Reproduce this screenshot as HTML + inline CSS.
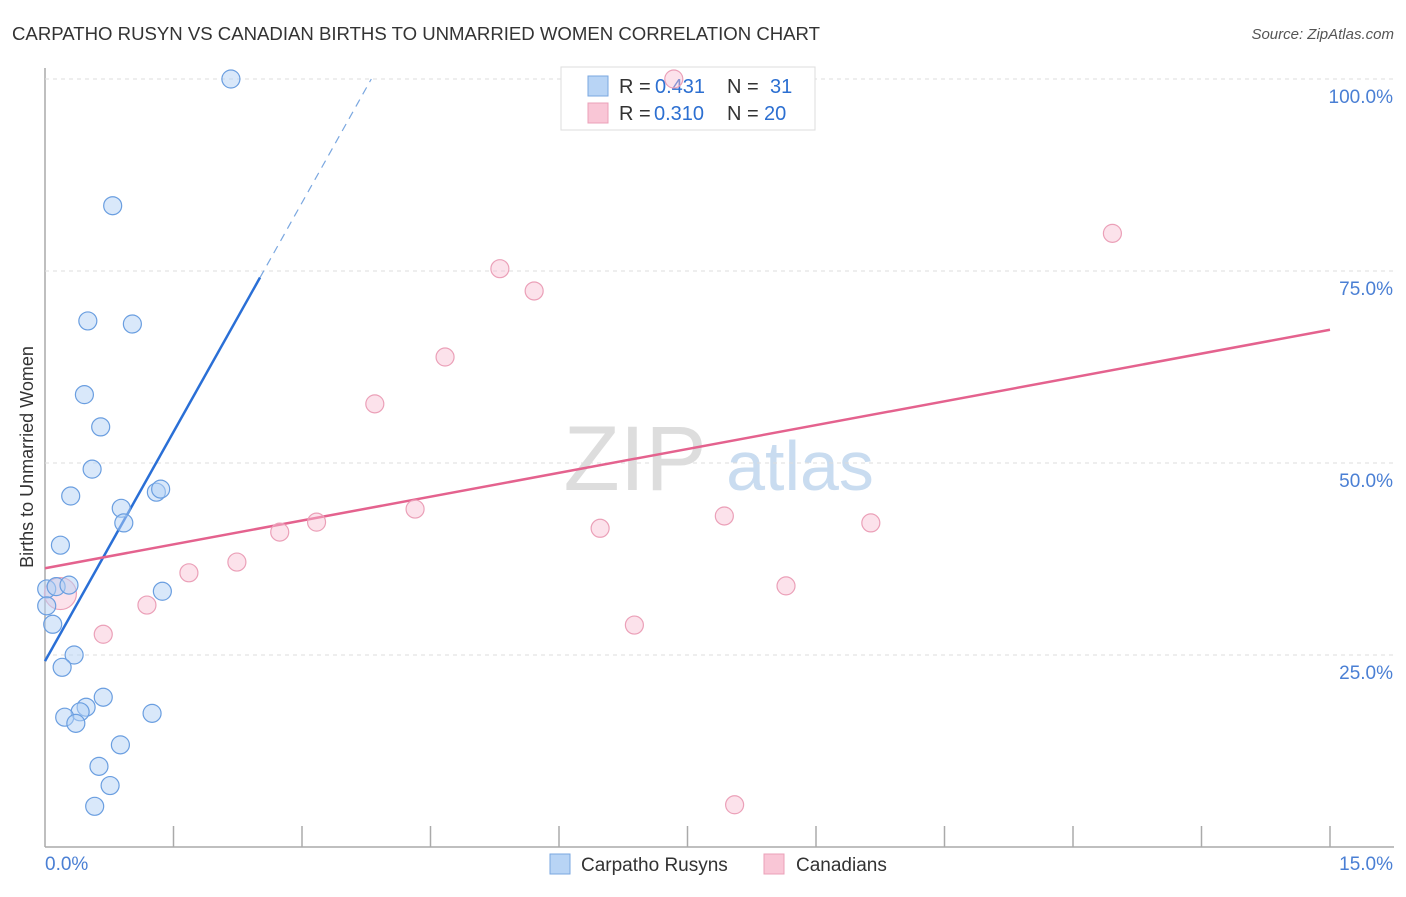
<!DOCTYPE html>
<html><head><meta charset="utf-8"><style>
body{margin:0;background:#fff;font-family:"Liberation Sans",sans-serif;}
svg text{font-family:"Liberation Sans",sans-serif;}
</style></head><body>
<svg id="chart" width="1406" height="892">
<text x="12" y="40" font-size="18.6" fill="#333" textLength="808">CARPATHO RUSYN VS CANADIAN BIRTHS TO UNMARRIED WOMEN CORRELATION CHART</text>
<text x="1394" y="39" font-size="15" fill="#555" text-anchor="end" font-style="italic">Source: ZipAtlas.com</text>
<text x="33" y="457" font-size="18" fill="#333" text-anchor="middle" transform="rotate(-90 33 457)">Births to Unmarried Women</text>
<g><text x="635" y="490" font-size="92" font-family="Liberation Serif" fill="#ddd" text-anchor="middle">ZIP</text><text x="800" y="490" font-size="70" fill="#c9dcf0" text-anchor="middle">atlas</text></g>
<g id="grid"></g><g id="lines"></g>
<g>
<rect x="561" y="67" width="254" height="63" fill="#fff" stroke="#ddd"/>
<rect x="588" y="76" width="20" height="20" fill="#b8d4f5" stroke="#7aa7e0"/>
<rect x="588" y="103" width="20" height="20" fill="#f9c6d6" stroke="#eba0b8"/>
<text y="93" font-size="20" fill="#333"><tspan x="619">R =</tspan><tspan x="655" fill="#2c6fd1">0.431</tspan><tspan x="727">N =</tspan><tspan x="770" fill="#2c6fd1">31</tspan></text>
<text y="120" font-size="20" fill="#333"><tspan x="619">R =</tspan><tspan x="654" fill="#2c6fd1">0.310</tspan><tspan x="727">N =</tspan><tspan x="764" fill="#2c6fd1">20</tspan></text>
</g>
<g id="pts"></g>
<g>
<rect x="550" y="854" width="20" height="20" fill="#b8d4f5" stroke="#7aa7e0"/>
<text x="581" y="871" font-size="19" fill="#333">Carpatho Rusyns</text>
<rect x="764" y="854" width="20" height="20" fill="#f9c6d6" stroke="#eba0b8"/>
<text x="796" y="871" font-size="19" fill="#333">Canadians</text>
</g>
</svg>
<script>
const xTicks=[0,1.5,3,4.5,6,7.5,9,10.5,12,13.5,15];
const yTicks=[25,50,75,100];
const blueX=[2.17,0.79,0.5,1.02,0.46,0.65,0.55,0.30,0.89,0.92,1.30,1.35,0.18,0.02,0.13,0.28,1.37,0.09,0.34,0.20,0.68,0.48,0.41,0.23,0.36,1.25,0.88,0.63,0.76,0.58,0.02];
const blueY=[100,83.5,68.5,68.1,58.9,54.7,49.2,45.7,44.1,42.2,46.2,46.6,39.3,33.6,33.9,34.1,33.3,29.0,25.0,23.4,19.5,18.2,17.6,16.9,16.1,17.4,13.3,10.5,8.0,5.3,31.4];
const pinkX=[12.46,5.31,5.71,4.67,3.85,4.32,3.17,2.74,2.24,1.68,1.19,0.68,6.48,7.93,9.64,8.65,6.88,8.05,7.34,0.18];
const pinkY=[79.9,75.3,72.4,63.8,57.7,44.0,42.3,41.0,37.1,35.7,31.5,27.7,41.5,43.1,42.2,34.0,28.9,5.5,100,33.0];
const pinkR=[9,9,9,9,9,9,9,9,9,9,9,9,9,9,9,9,9,9,9,16];
const blueFit=[24.2,19.9]; const pinkFit=[36.3,2.07];
const X=v=>45+v/15*1285, Y=v=>847-v/100*768;
const NS="http://www.w3.org/2000/svg";
function mk(p,t,a){const e=document.createElementNS(NS,t);for(const k in a)e.setAttribute(k,a[k]);p.appendChild(e);return e;}
const g=document.getElementById('grid');
mk(g,'line',{x1:45,y1:68,x2:45,y2:847,stroke:'#aaa','stroke-width':1.5});
mk(g,'line',{x1:45,y1:847,x2:1394,y2:847,stroke:'#aaa','stroke-width':1.5});
yTicks.forEach(t=>{const l=mk(g,'line',{x1:45,y1:Y(t),x2:1394,y2:Y(t),stroke:'#ddd','stroke-dasharray':'4,4'});


const tx=mk(g,'text',{x:1393,y:Y(t)+24,'font-size':19,fill:'#4a7fd4','text-anchor':'end'});tx.textContent=t.toFixed(1)+'%';

});
xTicks.forEach((t,i)=>{if(i>0){const l=mk(g,'line',{x1:X(t),y1:826,x2:X(t),y2:847,stroke:'#aaa','stroke-width':1.5});

}});
[[0,'start',45],[15,'end',1393]].forEach(([t,a,x])=>{const tx=mk(g,'text',{x:x,y:870,'font-size':19,fill:'#4a7fd4','text-anchor':a});tx.textContent=t.toFixed(1)+'%';

});
const L=document.getElementById('lines');
const bEnd=2.51, bTop=(100-blueFit[0])/blueFit[1];
let l1=mk(L,'line',{x1:X(0),y1:Y(blueFit[0]),x2:X(bEnd),y2:Y(blueFit[0]+blueFit[1]*bEnd),stroke:'#2a6fd6','stroke-width':2.5});


let l2=mk(L,'line',{x1:X(bEnd),y1:Y(blueFit[0]+blueFit[1]*bEnd),x2:X(bTop),y2:Y(100),stroke:'#7aa7e0','stroke-width':1.2,'stroke-dasharray':'8,6'});


let l3=mk(L,'line',{x1:X(0),y1:Y(pinkFit[0]),x2:X(15),y2:Y(pinkFit[0]+pinkFit[1]*15),stroke:'#e4628e','stroke-width':2.5});


const P=document.getElementById('pts');
pinkX.forEach((v,i)=>{const c=mk(P,'circle',{cx:X(v),cy:Y(pinkY[i]),r:pinkR[i],fill:'rgba(248,190,210,0.45)',stroke:'#eba0b8','stroke-width':1.2});

});
blueX.forEach((v,i)=>{const c=mk(P,'circle',{cx:X(v),cy:Y(blueY[i]),r:9,fill:'rgba(180,210,245,0.5)',stroke:'#6a9ee0','stroke-width':1.2});

});
</script>
</body></html>
